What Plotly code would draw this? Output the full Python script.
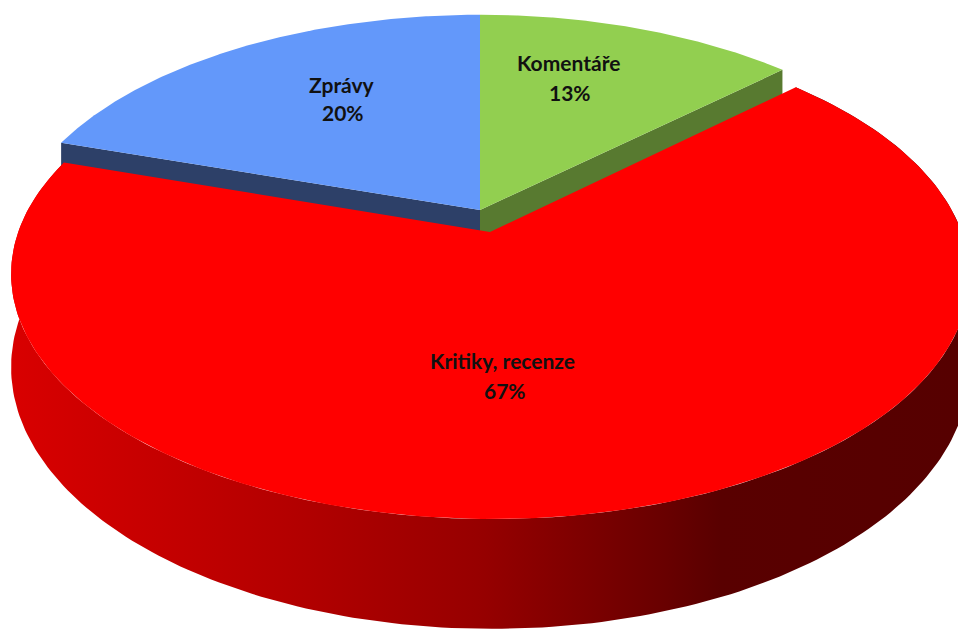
import numpy as np
import plotly.graph_objects as go

# Share of articles by genre
categories = ["Komentáře", "Kritiky, recenze", "Zprávy"]
shares = [13, 67, 20]

# Slice styling
top_colors = ["#92cf50", "#ff0000", "#6398fa"]
cut_colors = ["#587a30", "#8b0000", "#2d4068"]
pull = [0.0, 0.0965, 0.0]

# Perspective projection of the pie disc (screen pixels)
CX, CY = 480.0, 210.0
RX, RY = 464.0, 229.0
PERSP = 0.173
DEPTH = 89.0


def project(u, v, z):
    """Map plane point (u right, v toward viewer) at height z (0 top, 1 bottom)."""
    u = np.asarray(u, dtype=float)
    v = np.asarray(v, dtype=float)
    w = 1.0 - PERSP * v
    return CX + RX * u / w, CY + (RY * v + DEPTH * z) / w


def arc(t0, t1, ou, ov, n=240):
    t = np.linspace(t0, t1, n)
    return ou + np.sin(t), ov - np.cos(t)


total = float(sum(shares))
bounds = np.concatenate([[0.0], np.cumsum(shares)]) / total * 2 * np.pi

fig = go.Figure()


def add_poly(xs, ys, color, **kw):
    fig.add_trace(go.Scatter(
        x=np.append(xs, xs[0]), y=np.append(ys, ys[0]),
        mode="lines", fill="toself", fillcolor=color,
        line=dict(width=0, color=color), hoverinfo="skip", **kw))


slices = []
for i, name in enumerate(categories):
    t0, t1 = bounds[i], bounds[i + 1]
    mid = 0.5 * (t0 + t1)
    ou, ov = pull[i] * np.sin(mid), -pull[i] * np.cos(mid)
    slices.append((i, t0, t1, ou, ov))

# Back slices: radial cut faces that look toward the viewer, then top faces
for i, t0, t1, ou, ov in slices:
    if pull[i] > 0:
        continue
    for t, facing in ((t0, -np.sin(t0)), (t1, np.sin(t1))):
        if facing <= 1e-6:
            continue
        pu = [ou, ou + np.sin(t), ou + np.sin(t), ou]
        pv = [ov, ov - np.cos(t), ov - np.cos(t), ov]
        pz = [0, 0, 1, 1]
        x, y = project(pu, pv, np.array(pz))
        add_poly(x, y, cut_colors[i])
for i, t0, t1, ou, ov in slices:
    if pull[i] > 0:
        continue
    au, av = arc(t0, t1, ou, ov)
    x, y = project(np.concatenate([[ou], au]), np.concatenate([[ov], av]), 0)
    add_poly(x, y, top_colors[i])

# Pulled-out slice: shaded rim, then its top face
side_scale = [
    [0.0, "#d90000"], [0.30, "#b30000"], [0.50, "#960000"],
    [0.685, "#6a0000"], [0.75, "#590000"], [1.0, "#560000"],
]
for i, t0, t1, ou, ov in slices:
    if pull[i] == 0:
        continue
    au, av = arc(t0, t1, ou, ov)
    xt, yt = project(au, av, 0)
    xb, yb = project(au, av, 1)
    fig.add_trace(go.Scatter(
        x=np.concatenate([xt, xb[::-1], xt[:1]]),
        y=np.concatenate([yt, yb[::-1], yt[:1]]),
        mode="lines", fill="toself", fillcolor="#a00000",
        fillgradient=dict(type="horizontal", colorscale=side_scale,
                          start=10, stop=958),
        line=dict(width=0, color="#a00000"), hoverinfo="skip"))
    x, y = project(np.concatenate([[ou], au]), np.concatenate([[ov], av]), 0)
    add_poly(x, y, top_colors[i])

# Data labels: category name over percentage
label_anchor = {
    "Komentáře": (568, 62, 570, 92),
    "Kritiky, recenze": (502, 360, 505, 390),
    "Zprávy": (342, 84, 343, 112),
}
font = dict(family="Lato", size=21, color="#111111")
annotations = []
for name, val in zip(categories, shares):
    x1, y1, x2, y2 = label_anchor[name]
    pct = f"{round(val / total * 100)}%"
    annotations.append(dict(x=x1, y=y1, text=f"<b>{name}</b>", showarrow=False,
                            xanchor="center", yanchor="middle", font=font))
    annotations.append(dict(x=x2, y=y2, text=f"<b>{pct}</b>", showarrow=False,
                            xanchor="center", yanchor="middle", font=font))

fig.update_layout(
    width=958, height=630,
    margin=dict(l=0, r=0, t=0, b=0),
    showlegend=False,
    plot_bgcolor="white", paper_bgcolor="white",
    xaxis=dict(range=[0, 958], visible=False, fixedrange=True),
    yaxis=dict(range=[630, 0], visible=False, fixedrange=True),
    annotations=annotations,
)

fig.write_html("out.html")
